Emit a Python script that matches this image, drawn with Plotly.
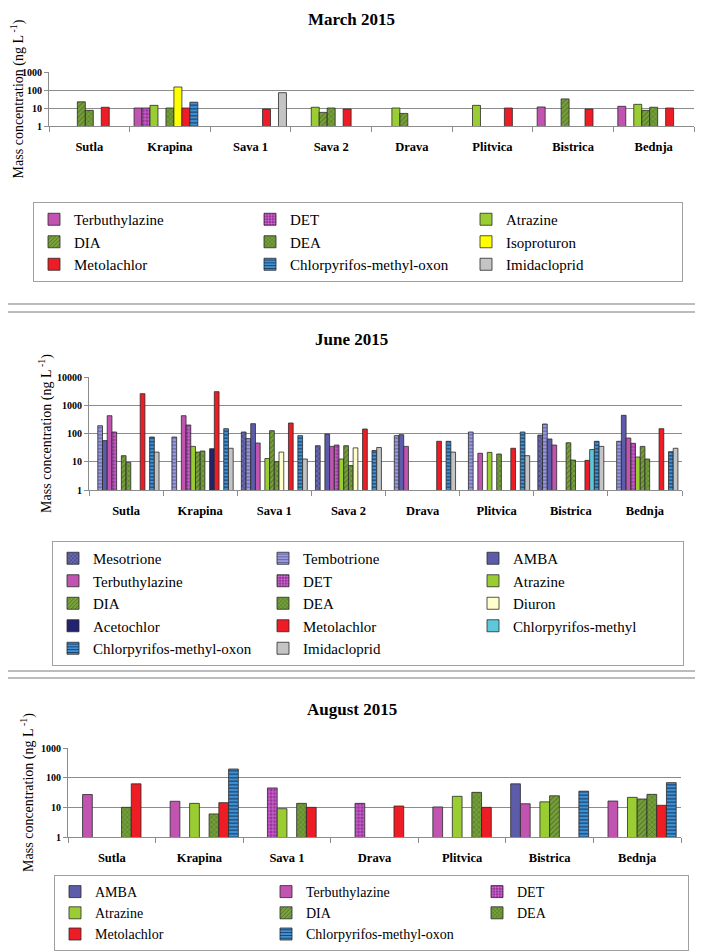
import plotly.graph_objects as go

# page body keeps an 8px margin, so the figure is sized to fill the rest of the window
OFF = 8
W, H = 703 - OFF, 952 - OFF
FONT = "Liberation Serif"

# ---------------- data ----------------
march_sites = ["Sutla", "Krapina", "Sava 1", "Sava 2", "Drava", "Plitvica", "Bistrica", "Bednja"]
march_compounds = ["Terbuthylazine", "DET", "Atrazine", "DIA", "DEA", "Isoproturon",
                   "Metolachlor", "Chlorpyrifos-methyl-oxon", "Imidacloprid"]
march_terbuthylazine = [None, 10, None, None, None, None, 11.4, 12.4]
march_det = [None, 10, None, None, None, None, None, None]
march_atrazine = [None, 14, None, 11, 10, 14, None, 16]
march_dia = [22, None, None, 5.7, 5.0, None, 32, 7.4]
march_dea = [7.4, 10, None, 10, None, None, None, 11]
march_isoproturon = [None, 147, None, None, None, None, None, None]
march_metolachlor = [11, 10, 8.8, 8.8, None, 10, 8.8, 10]
march_cpo = [None, 21, None, None, None, None, None, None]
march_imidacloprid = [None, None, 71, None, None, None, None, None]
march_values = [march_terbuthylazine, march_det, march_atrazine, march_dia, march_dea,
                march_isoproturon, march_metolachlor, march_cpo, march_imidacloprid]

june_sites = ["Sutla", "Krapina", "Sava 1", "Sava 2", "Drava", "Plitvica", "Bistrica", "Bednja"]
june_compounds = ["Mesotrione", "Tembotrione", "AMBA", "Terbuthylazine", "DET", "Atrazine",
                  "DIA", "DEA", "Diuron", "Acetochlor", "Metolachlor", "Chlorpyrifos-methyl",
                  "Chlorpyrifos-methyl-oxon", "Imidacloprid"]
june_mesotrione = [None, None, 113, 37, None, None, 88, None]
june_tembotrione = [189, 75, 66, None, 84, 113, 217, 53]
june_amba = [56, None, 223, 96, 91, None, 64, 440]
june_terbuthylazine = [427, 427, 46, 35, 35, 20, 39, 69]
june_det = [113, 200, None, 39, None, None, None, 45]
june_atrazine = [None, 35, 13, 12.5, None, 21.5, None, 14.7]
june_dia = [16.4, 22, 126, 37, None, None, 47, 35]
june_dea = [9.5, 24, 10, 7.3, None, 18.8, 11.5, 12.5]
june_diuron = [None, None, 22, 31, None, None, None, None]
june_acetochlor = [None, 29, None, None, None, None, None, None]
june_metolachlor = [2570, 3030, 235, 144, 53, 30, 11.2, 148]
june_cpm = [None, None, None, None, None, None, 27, None]
june_cpo = [75, 148, 84, 25, 53, 113, 53, 22.7]
june_imidacloprid = [22, 30, 12.5, 32, 22, 16.4, 35, 30]
june_values = [june_mesotrione, june_tembotrione, june_amba, june_terbuthylazine, june_det,
               june_atrazine, june_dia, june_dea, june_diuron, june_acetochlor,
               june_metolachlor, june_cpm, june_cpo, june_imidacloprid]

aug_sites = ["Sutla", "Krapina", "Sava 1", "Drava", "Plitvica", "Bistrica", "Bednja"]
aug_compounds = ["AMBA", "Terbuthylazine", "DET", "Atrazine", "DIA", "DEA",
                 "Metolachlor", "Chlorpyrifos-methyl-oxon"]
aug_amba = [None, None, None, None, None, 62, None]
aug_terbuthylazine = [27, 16, None, None, 10.3, 13.2, 16.3]
aug_det = [None, None, 45, 13.6, None, None, None]
aug_atrazine = [None, 13.6, 9.0, None, 23.5, 15.3, 21.7]
aug_dia = [None, None, None, None, None, 24.5, 19.1]
aug_dea = [10, 6.0, 13.6, None, 32, None, 27.4]
aug_metolachlor = [62, 14.4, 10, 11.1, 10, None, 11.7]
aug_cpo = [None, 196, None, None, None, 35, 68]
aug_values = [aug_amba, aug_terbuthylazine, aug_det, aug_atrazine, aug_dia, aug_dea,
              aug_metolachlor, aug_cpo]

y3_ticks = [1, 10, 100, 1000]
y3_labels = ["1", "10", "100", "1000"]
y4_ticks = [1, 10, 100, 1000, 10000]
y4_labels = ["1", "10", "100", "1000", "10000"]

# ---------------- styles ----------------
STYLE = {
    "Mesotrione": dict(color="#6A6AAE", shape="x", fg="#3C3C7C"),
    "Tembotrione": dict(color="#9A9AD8", shape="-", fg="#6464AE"),
    "AMBA": dict(color="#5C5CAA", shape="", fg=None),
    "Terbuthylazine": dict(color="#C153B1", shape="", fg=None),
    "DET": dict(color="#9A2F9E", shape="+", fg="#D67ED6"),
    "Atrazine": dict(color="#9ACD32", shape="", fg=None),
    "DIA": dict(color="#7AA23C", shape="/", fg="#55772A"),
    "DEA": dict(color="#74A03A", shape="x", fg="#55772A"),
    "Diuron": dict(color="#FFFFCC", shape="", fg=None),
    "Acetochlor": dict(color="#22226E", shape="", fg=None),
    "Isoproturon": dict(color="#FFFF00", shape="", fg=None),
    "Metolachlor": dict(color="#EE1C24", shape="", fg=None),
    "Chlorpyrifos-methyl": dict(color="#5CC8DA", shape="", fg=None),
    "Chlorpyrifos-methyl-oxon": dict(color="#3F92D4", shape="-", fg="#1B3E6C"),
    "Imidacloprid": dict(color="#C4C4C4", shape="", fg=None),
}

fig = go.Figure()


def add_panel(sites, compounds, values, xa, ya, legend):
    for name, vals in zip(compounds, values):
        st = STYLE[name]
        if st["fg"]:
            pattern = dict(shape=st["shape"], size=3.5, solidity=0.35, fillmode="replace",
                           bgcolor=st["color"], fgcolor=st["fg"])
        else:
            pattern = dict(shape="")
        fig.add_trace(go.Bar(
            x=sites, y=vals, name=name, xaxis=xa, yaxis=ya, legend=legend,
            marker=dict(color=st["color"], pattern=pattern,
                        line=dict(color="#2A2A2A", width=0.8)),
        ))


add_panel(march_sites, march_compounds, march_values, "x", "y", "legend")
add_panel(june_sites, june_compounds, june_values, "x2", "y2", "legend2")
add_panel(aug_sites, aug_compounds, aug_values, "x3", "y3", "legend3")

GRID = "#8C8C8C"


def px_x(p):
    return (p - OFF) / W


def px_y(p):
    return 1 - (p - OFF) / H


def xaxis(dom, anchor):
    return dict(domain=[px_x(dom[0]), px_x(dom[1])], anchor=anchor, type="category",
                automargin=False,
                showgrid=False, showline=True, linecolor=GRID, linewidth=1,
                ticks="outside", tickson="boundaries", ticklen=5, tickcolor=GRID,
                ticklabelstandoff=9,
                tickfont=dict(family=FONT, size=12.5, color="#000", weight="bold"))


def yaxis(dom, anchor, rng, tv, tt, standoff):
    return dict(domain=[px_y(dom[1]), px_y(dom[0])], anchor=anchor, type="log",
                automargin=False,
                range=rng, tickvals=tv, ticktext=tt,
                showgrid=True, gridcolor=GRID, gridwidth=1,
                showline=True, linecolor=GRID, linewidth=1,
                ticks="outside", ticklen=4, tickcolor=GRID,
                tickfont=dict(family=FONT, size=10, color="#000", weight="bold"),
                title=dict(text="Mass concentration (ng L<sup> -1</sup>)",
                           font=dict(family=FONT, size=14, color="#000"),
                           standoff=standoff))


def legend(xpx, ypx, entry, size, yanchor="top"):
    return dict(orientation="h", x=px_x(xpx), y=px_y(ypx), xanchor="left", yanchor=yanchor,
                entrywidth=entry, entrywidthmode="pixels",
                bordercolor="#A0A0A0", borderwidth=1, bgcolor="white",
                font=dict(family=FONT, size=size, color="#000"), traceorder="normal")


fig.update_layout(
    template="none",
    width=W, height=H,
    margin=dict(l=0, r=0, t=0, b=0, autoexpand=False),
    paper_bgcolor="white", plot_bgcolor="white",
    barmode="group", bargap=0.11, bargroupgap=0,
    xaxis=xaxis((49, 694), "y"),
    yaxis=yaxis((72, 126), "x", [0, 3], y3_ticks, y3_labels, 1),
    xaxis2=xaxis((89, 682), "y2"),
    yaxis2=yaxis((377, 490), "x2", [0, 4], y4_ticks, y4_labels, 2),
    xaxis3=xaxis((68, 681), "y3"),
    yaxis3=yaxis((748, 837), "x3", [0, 3], y3_ticks, y3_labels, 4),
    legend=legend(33, 202, 171, 15),
    legend2=legend(52, 541, 165, 15),
    legend3=legend(54, 951, 166, 14, yanchor="bottom"),
    showlegend=True,
)

titles = [("March 2015", 20), ("June 2015", 339), ("August 2015", 709)]
for txt, ypx in titles:
    fig.add_annotation(text=f"<b>{txt}</b>", xref="paper", yref="paper", x=px_x(351.5),
                       y=px_y(ypx), xanchor="center", yanchor="middle", showarrow=False,
                       font=dict(family=FONT, size=17, color="#000"))

for ypx in (304, 312, 671, 678):
    fig.add_shape(type="line", xref="paper", yref="paper", x0=0, x1=1,
                  y0=px_y(ypx), y1=px_y(ypx), line=dict(color="#A6A6A6", width=1.5))

fig.write_html("out.html", config={"displayModeBar": False})
